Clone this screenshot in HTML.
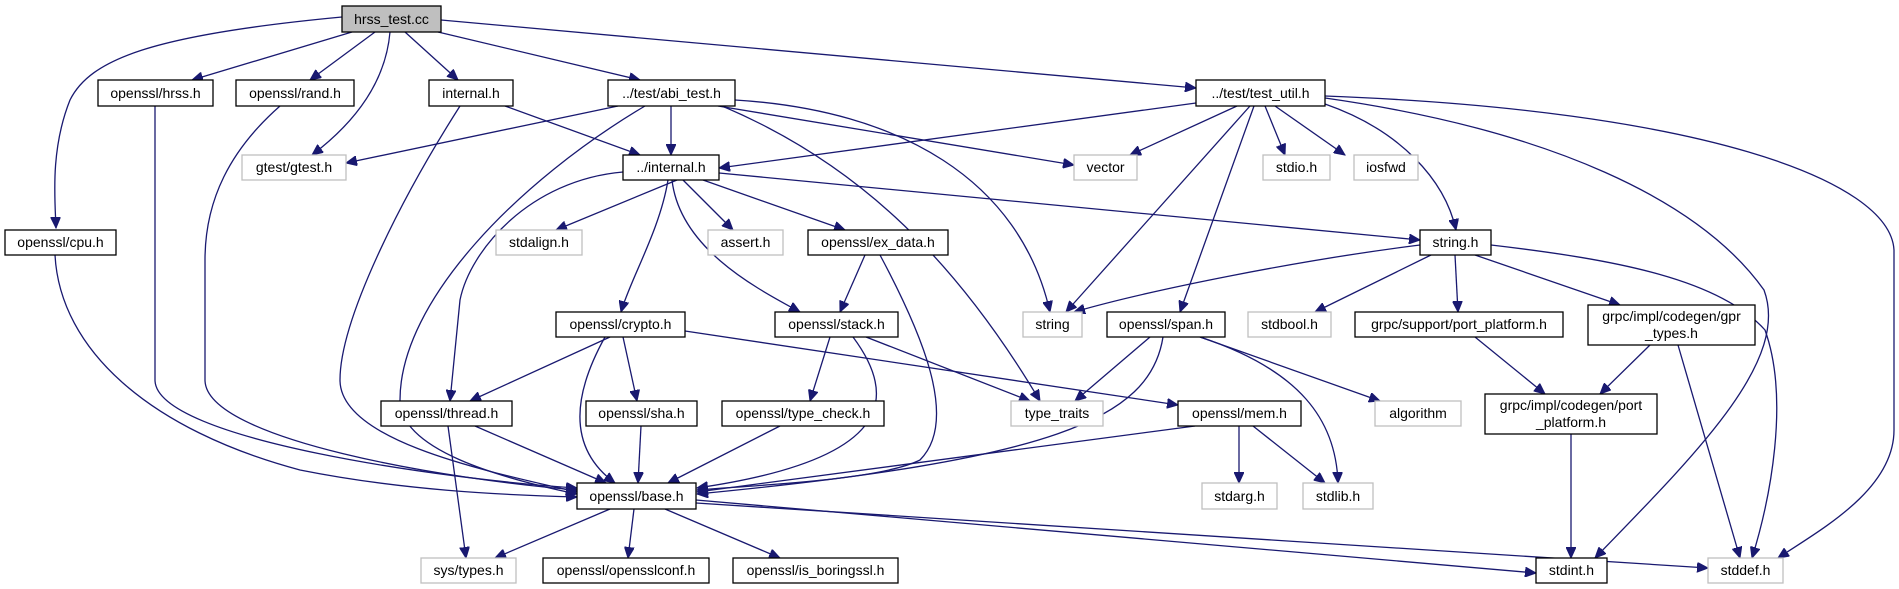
<!DOCTYPE html>
<html><head><meta charset="utf-8"><style>
html,body{margin:0;padding:0;background:#fff;}
svg{display:block}
text{font-family:"Liberation Sans",sans-serif;font-size:14px;fill:#000;text-anchor:middle}
.n{fill:#fff;stroke:#000;stroke-width:1.3}
.g{fill:#fff;stroke:#bfbfbf;stroke-width:1.3}
.e{fill:none;stroke:#191970;stroke-width:1.3;marker-end:url(#a)}
</style></head><body>
<svg width="1899" height="589" viewBox="0 0 1899 589" xmlns="http://www.w3.org/2000/svg">
<defs><marker id="a" markerUnits="userSpaceOnUse" markerWidth="12" markerHeight="10" refX="11" refY="5" orient="auto"><path d="M0,0 L11,5 L0,10 z" fill="#191970" stroke="#191970"/></marker></defs>
<g>
<path class="e" d="M342,17 C150,35 90,60 70,100 C50,150 55,200 56,228"/>
<path class="e" d="M352,32 L192,80"/>
<path class="e" d="M375,32 L310,80"/>
<path class="e" d="M390,32 C385,90 345,130 312,155"/>
<path class="e" d="M405,32 L458,80"/>
<path class="e" d="M438,32 L640,80"/>
<path class="e" d="M441,20 L1196,88"/>
<path class="e" d="M155,106 L155,380 C155,440 450,480 577,488"/>
<path class="e" d="M280,106 C230,150 205,200 205,260 L205,380 C205,440 450,480 577,490"/>
<path class="e" d="M505,106 L640,155"/>
<path class="e" d="M460,106 C400,200 340,320 340,380 C340,440 480,470 577,492"/>
<path class="e" d="M618,106 L346,163"/>
<path class="e" d="M671,106 L671,155"/>
<path class="e" d="M645,106 C520,180 400,300 400,400 C400,450 500,478 577,494"/>
<path class="e" d="M718,106 L1074,165"/>
<path class="e" d="M722,106 C850,160 950,250 1040,401"/>
<path class="e" d="M735,100 C900,110 1020,180 1050,312"/>
<path class="e" d="M677,180 L556,230"/>
<path class="e" d="M668,180 C660,230 630,280 621,312"/>
<path class="e" d="M623,172 C530,180 470,250 460,300 L450,401"/>
<path class="e" d="M672,180 C680,250 760,290 800,312"/>
<path class="e" d="M683,180 L733,230"/>
<path class="e" d="M703,180 L845,230"/>
<path class="e" d="M719,173 L1420,240"/>
<path class="e" d="M1196,103 L719,168"/>
<path class="e" d="M1237,106 L1130,155"/>
<path class="e" d="M1250,106 L1066,312"/>
<path class="e" d="M1254,106 L1180,312"/>
<path class="e" d="M1265,106 L1285,155"/>
<path class="e" d="M1275,106 L1345,155"/>
<path class="e" d="M1325,104 C1400,130 1445,180 1456,230"/>
<path class="e" d="M1325,98 C1550,130 1700,200 1764,290 C1790,360 1700,450 1595,558"/>
<path class="e" d="M1325,96 C1700,110 1890,180 1894,250 L1894,430 C1894,490 1820,530 1778,558"/>
<path class="e" d="M1420,245 C1300,260 1150,290 1074,312"/>
<path class="e" d="M1431,255 L1315,312"/>
<path class="e" d="M1455,255 L1458,312"/>
<path class="e" d="M1475,255 L1620,305"/>
<path class="e" d="M1491,245 C1620,260 1720,280 1765,330 C1790,400 1770,500 1752,558"/>
<path class="e" d="M610,337 L470,401"/>
<path class="e" d="M605,337 C570,400 570,450 615,483"/>
<path class="e" d="M623,337 L637,401"/>
<path class="e" d="M685,331 L1178,405"/>
<path class="e" d="M830,337 L810,401"/>
<path class="e" d="M853,337 C900,400 890,460 697,488"/>
<path class="e" d="M866,337 L1030,401"/>
<path class="e" d="M865,255 L840,312"/>
<path class="e" d="M880,255 C920,330 960,420 920,460 C880,480 760,485 697,490"/>
<path class="e" d="M1150,337 L1075,401"/>
<path class="e" d="M1163,337 C1150,420 1050,460 697,494"/>
<path class="e" d="M1200,337 L1380,401"/>
<path class="e" d="M1200,337 C1300,370 1336,420 1338,483"/>
<path class="e" d="M1195,426 L697,492"/>
<path class="e" d="M1239,426 L1239,483"/>
<path class="e" d="M1253,426 L1325,483"/>
<path class="e" d="M475,426 L606,483"/>
<path class="e" d="M448,426 L466,558"/>
<path class="e" d="M641,426 L638,483"/>
<path class="e" d="M780,426 L668,483"/>
<path class="e" d="M610,509 L495,558"/>
<path class="e" d="M634,509 L628,558"/>
<path class="e" d="M665,509 L780,558"/>
<path class="e" d="M696,500 L1536,573"/>
<path class="e" d="M696,503 L1708,568"/>
<path class="e" d="M55,255 C60,350 150,430 300,470 C400,490 500,495 577,497"/>
<path class="e" d="M1475,337 L1545,394"/>
<path class="e" d="M1650,345 L1600,394"/>
<path class="e" d="M1678,345 L1740,558"/>
<path class="e" d="M1571,434 L1571,558"/>
</g>
<g>
<rect x="342" y="6" width="99" height="26" fill="#bfbfbf" stroke="#000" stroke-width="1.3"/><text x="391.5" y="24">hrss_test.cc</text>
<rect class="n" x="98" y="80" width="115" height="26"/><text x="155.5" y="98">openssl/hrss.h</text>
<rect class="n" x="236" y="80" width="118" height="26"/><text x="295" y="98">openssl/rand.h</text>
<rect class="n" x="429" y="80" width="84" height="26"/><text x="471" y="98">internal.h</text>
<rect class="n" x="608" y="80" width="127" height="26"/><text x="671.5" y="98">../test/abi_test.h</text>
<rect class="n" x="1196" y="80" width="129" height="26"/><text x="1260.5" y="98">../test/test_util.h</text>
<rect class="g" x="242" y="155" width="104" height="25"/><text x="294" y="172">gtest/gtest.h</text>
<rect class="n" x="623" y="155" width="96" height="25"/><text x="671" y="172">../internal.h</text>
<rect class="g" x="1074" y="155" width="63" height="25"/><text x="1105.5" y="172">vector</text>
<rect class="g" x="1263" y="155" width="67" height="25"/><text x="1296.5" y="172">stdio.h</text>
<rect class="g" x="1354" y="155" width="64" height="25"/><text x="1386" y="172">iosfwd</text>
<rect class="n" x="5" y="230" width="111" height="25"/><text x="60.5" y="247">openssl/cpu.h</text>
<rect class="g" x="496" y="230" width="86" height="25"/><text x="539" y="247">stdalign.h</text>
<rect class="g" x="708" y="230" width="75" height="25"/><text x="745.5" y="247">assert.h</text>
<rect class="n" x="808" y="230" width="140" height="25"/><text x="878" y="247">openssl/ex_data.h</text>
<rect class="n" x="1420" y="230" width="71" height="25"/><text x="1455.5" y="247">string.h</text>
<rect class="n" x="556" y="312" width="129" height="25"/><text x="620.5" y="329">openssl/crypto.h</text>
<rect class="n" x="775" y="312" width="123" height="25"/><text x="836.5" y="329">openssl/stack.h</text>
<rect class="g" x="1023" y="312" width="59" height="25"/><text x="1052.5" y="329">string</text>
<rect class="n" x="1107" y="312" width="118" height="25"/><text x="1166" y="329">openssl/span.h</text>
<rect class="g" x="1248" y="312" width="83" height="25"/><text x="1289.5" y="329">stdbool.h</text>
<rect class="n" x="1355" y="312" width="208" height="25"/><text x="1459" y="329">grpc/support/port_platform.h</text>
<rect class="n" x="1588" y="305" width="167" height="40"/><text x="1671.5" y="321">grpc/impl/codegen/gpr</text><text x="1671.5" y="338">_types.h</text>
<rect class="n" x="381" y="401" width="131" height="25"/><text x="446.5" y="418">openssl/thread.h</text>
<rect class="n" x="586" y="401" width="111" height="25"/><text x="641.5" y="418">openssl/sha.h</text>
<rect class="n" x="722" y="401" width="162" height="25"/><text x="803" y="418">openssl/type_check.h</text>
<rect class="g" x="1011" y="401" width="92" height="25"/><text x="1057" y="418">type_traits</text>
<rect class="n" x="1178" y="401" width="123" height="25"/><text x="1239.5" y="418">openssl/mem.h</text>
<rect class="g" x="1375" y="401" width="86" height="25"/><text x="1418" y="418">algorithm</text>
<rect class="n" x="1485" y="394" width="172" height="40"/><text x="1571" y="410">grpc/impl/codegen/port</text><text x="1571" y="427">_platform.h</text>
<rect class="n" x="577" y="483" width="119" height="26"/><text x="636.5" y="501">openssl/base.h</text>
<rect class="g" x="1202" y="483" width="75" height="26"/><text x="1239.5" y="501">stdarg.h</text>
<rect class="g" x="1303" y="483" width="70" height="26"/><text x="1338" y="501">stdlib.h</text>
<rect class="g" x="421" y="558" width="95" height="25"/><text x="468.5" y="575">sys/types.h</text>
<rect class="n" x="543" y="558" width="166" height="25"/><text x="626" y="575">openssl/opensslconf.h</text>
<rect class="n" x="733" y="558" width="165" height="25"/><text x="815.5" y="575">openssl/is_boringssl.h</text>
<rect class="n" x="1536" y="558" width="71" height="25"/><text x="1571.5" y="575">stdint.h</text>
<rect class="g" x="1708" y="558" width="75" height="25"/><text x="1745.5" y="575">stddef.h</text>
</g>
</svg>
</body></html>
